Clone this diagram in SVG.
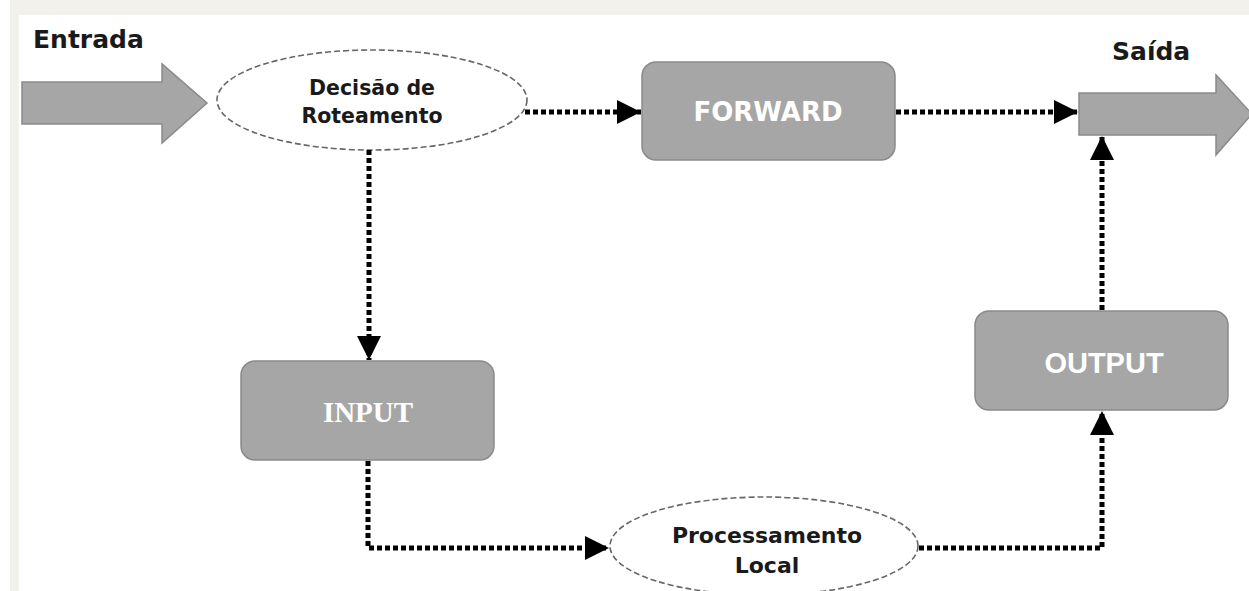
<svg xmlns="http://www.w3.org/2000/svg" width="1249" height="591" viewBox="0 0 1249 591">
  <defs>
    <marker id="tri" markerUnits="userSpaceOnUse" markerWidth="26" markerHeight="26" refX="24" refY="12" orient="auto">
      <path d="M0,0 L24,12 L0,24 z" fill="#000"/>
    </marker>
    <style>
      .label { font-family: "DejaVu Sans", Verdana, sans-serif; font-weight: bold; fill: #1a1a1a; }
      .oval { fill: #fff; stroke: #666; stroke-width: 1.6; stroke-dasharray: 6 3; }
      .box { fill: #a6a6a6; stroke: #8a8a8a; stroke-width: 1.5; }
      .boxtext { fill: #fff; font-weight: bold; text-anchor: middle; }
      .bigarrow { fill: #a6a6a6; stroke: #8a8a8a; stroke-width: 1.5; }
      .flow { fill: none; stroke: #000; stroke-width: 5; stroke-dasharray: 5 3; marker-end: url(#tri); }
    </style>
  </defs>

  <!-- page background: white sheet with a light frame along the top and left -->
  <rect x="0" y="0" width="1249" height="591" fill="#fff"/>
  <rect x="10" y="0" width="1239" height="15" fill="#f3f1ec"/>
  <rect x="10" y="15" width="9" height="576" fill="#f3f1ec"/>

  <!-- incoming traffic -->
  <g id="entrada">
    <text class="label" x="33" y="48" font-size="25">Entrada</text>
    <path class="bigarrow" d="M22,82 L162,82 L162,64 L207,103 L162,143 L162,124 L22,124 z"/>
  </g>

  <!-- outgoing traffic -->
  <g id="saida">
    <text class="label" x="1112" y="60" font-size="25">Saída</text>
    <path class="bigarrow" d="M1079,93 L1216,93 L1216,75 L1252,114 L1216,155 L1216,135 L1079,135 z"/>
  </g>

  <g id="decisao">
    <ellipse class="oval" cx="372" cy="100" rx="155" ry="50"/>
    <text class="label" x="372" y="95" font-size="20.5" text-anchor="middle">Decisão de</text>
    <text class="label" x="372" y="123" font-size="20.5" text-anchor="middle">Roteamento</text>
  </g>

  <g id="forward">
    <rect class="box" x="642" y="62" width="253" height="98" rx="14"/>
    <text class="boxtext" x="768" y="121" font-size="26" font-family="DejaVu Sans, Verdana, sans-serif">FORWARD</text>
  </g>

  <g id="input">
    <rect class="box" x="241" y="361" width="253" height="99" rx="14"/>
    <text class="boxtext" x="368" y="422" font-size="29" font-family="Liberation Serif, Georgia, serif">INPUT</text>
  </g>

  <g id="output">
    <rect class="box" x="975" y="311" width="253" height="99" rx="14"/>
    <text class="boxtext" x="1104" y="373" font-size="29" font-family="Liberation Sans, Arial, sans-serif">OUTPUT</text>
  </g>

  <g id="processamento">
    <ellipse class="oval" cx="764" cy="546" rx="154" ry="49"/>
    <text class="label" x="767" y="543" font-size="22" text-anchor="middle">Processamento</text>
    <text class="label" x="767" y="573" font-size="22" text-anchor="middle">Local</text>
  </g>

  <g id="connectors">
    <path class="flow" d="M525,112 L641,112"/>
    <path class="flow" d="M896,112 L1078,112"/>
    <path class="flow" d="M369,150 L369,360"/>
    <path class="flow" d="M368,461 L368,548 L609,548"/>
    <path class="flow" d="M919,548 L1102,548 L1102,411"/>
    <path class="flow" d="M1102,310 L1102,136"/>
  </g>
</svg>
